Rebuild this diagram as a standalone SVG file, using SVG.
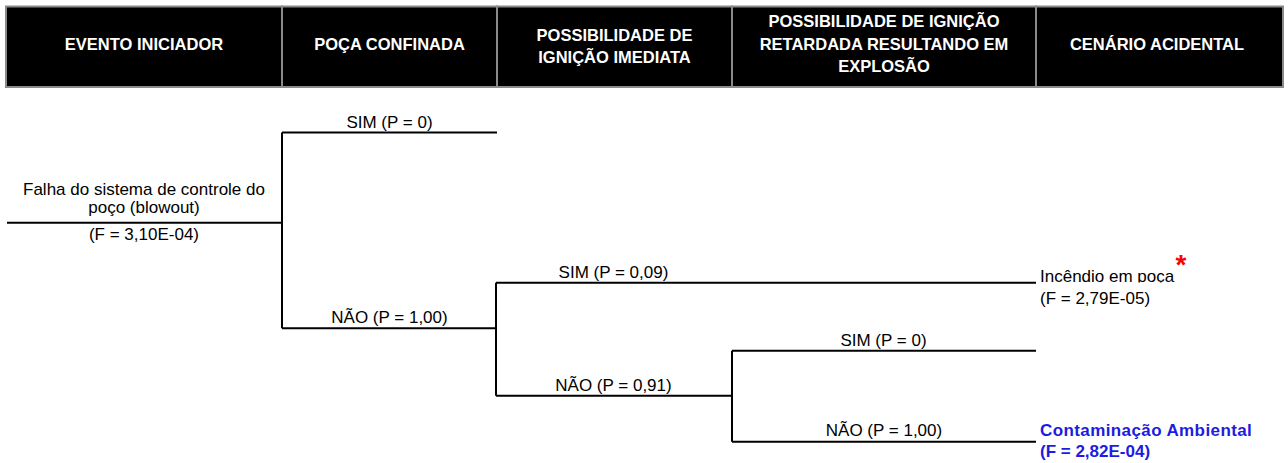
<svg xmlns="http://www.w3.org/2000/svg" width="1288" height="463" viewBox="0 0 1288 463">
<style>
.hd{fill:#000;stroke:#8a8a8a;stroke-width:2}
.ht{font-family:"Liberation Sans",Arial,sans-serif;font-weight:bold;font-size:16.5px;fill:#fff;text-anchor:middle}
.lb{font-family:"Liberation Sans",Arial,sans-serif;font-size:17px;fill:#000}
.mid{text-anchor:middle}
.ln{stroke:#000;stroke-width:2;fill:none}
.bl{font-family:"Liberation Sans",Arial,sans-serif;font-weight:bold;font-size:17px;fill:#1c1ce0}
.ast{font-family:"Liberation Sans",Arial,sans-serif;font-weight:bold;font-size:28px;fill:#ff0000;text-anchor:middle}
</style>
<defs>
<clipPath id="clipInc"><rect x="1030" y="250" width="160" height="32.5"/></clipPath>
</defs>
<rect width="1288" height="463" fill="#fff"/>
<g id="header">
<g id="h1"><rect class="hd" x="6" y="6.5" width="276" height="80.5"/><text class="ht" x="144" y="50">EVENTO INICIADOR</text></g>
<g id="h2"><rect class="hd" x="282" y="6.5" width="215" height="80.5"/><text class="ht" x="389.5" y="50">POÇA CONFINADA</text></g>
<g id="h3"><rect class="hd" x="497" y="6.5" width="235" height="80.5"/><text class="ht" x="614.5" y="40.5">POSSIBILIDADE DE</text><text class="ht" x="614.5" y="62.5">IGNIÇÃO IMEDIATA</text></g>
<g id="h4"><rect class="hd" x="732" y="6.5" width="304" height="80.5"/><text class="ht" x="884" y="27">POSSIBILIDADE DE IGNIÇÃO</text><text class="ht" x="884" y="49.5">RETARDADA RESULTANDO EM</text><text class="ht" x="884" y="72">EXPLOSÃO</text></g>
<g id="h5"><rect class="hd" x="1036" y="6.5" width="247" height="80.5"/><text class="ht" x="1157" y="50">CENÁRIO ACIDENTAL</text></g>
</g>
<g id="connectors">
<path class="ln" d="M7 222.7H282M282 132.5V328.3M282 132.5H497M282 328.3H496M496 282.7V395.7M496 282.7H1036M496 395.7H732M732 350.7V441.7M732 350.7H1036M732 441.7H1036"/>
</g>
<g id="initiator">
<text class="lb mid" x="144" y="195">Falha do sistema de controle do</text>
<text class="lb mid" x="144" y="213">poço (blowout)</text>
<text class="lb mid" x="144" y="239.5">(F = 3,10E-04)</text>
</g>
<g id="branch-labels">
<text class="lb mid" x="389.5" y="127.5">SIM (P = 0)</text>
<text class="lb mid" x="389.5" y="322.5">NÃO (P = 1,00)</text>
<text class="lb mid" x="613.5" y="277.5">SIM (P = 0,09)</text>
<text class="lb mid" x="613.5" y="390.5">NÃO (P = 0,91)</text>
<text class="lb mid" x="883.5" y="345.5">SIM (P = 0)</text>
<text class="lb mid" x="884" y="436">NÃO (P = 1,00)</text>
</g>
<g id="outcome-incendio">
<text class="lb" x="1040" y="281.5" clip-path="url(#clipInc)">Incêndio em poça</text>
<text class="lb" x="1040" y="303.5">(F = 2,79E-05)</text>
<text class="ast" x="1181" y="274">*</text>
</g>
<g id="outcome-contaminacao">
<text class="bl" x="1040" y="436" letter-spacing="0.4">Contaminação Ambiental</text>
<text class="bl" x="1040" y="457">(F = 2,82E-04)</text>
</g>
</svg>
